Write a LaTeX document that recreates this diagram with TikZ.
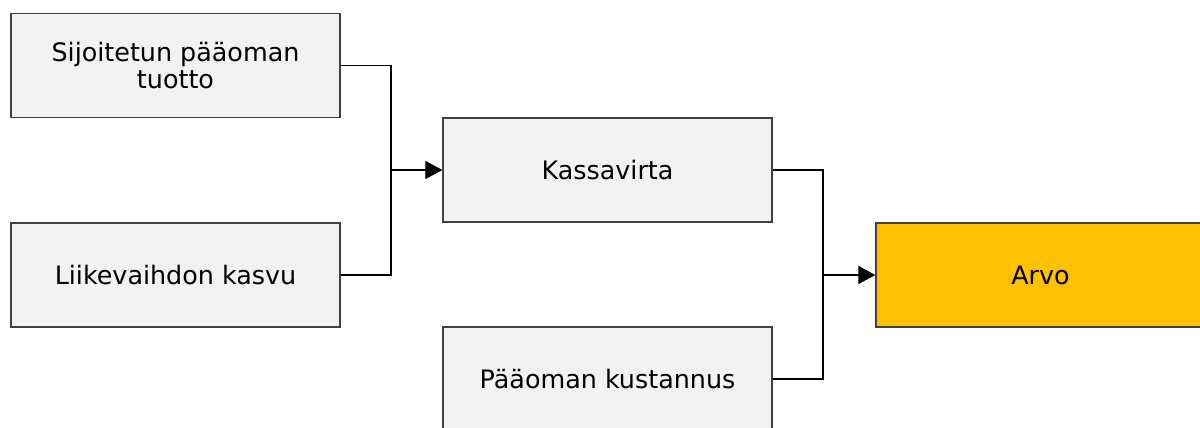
\documentclass[tikz,border=0pt]{standalone}
\usepackage{fontspec}
\setmainfont{DejaVu Sans}
\usetikzlibrary{arrows.meta}
\definecolor{boxgray}{HTML}{F2F2F2}
\definecolor{boxline}{HTML}{404040}
\definecolor{arvo}{HTML}{FFC000}
\begin{document}
\begin{tikzpicture}[x=0.5pt,y=-0.5pt,
  box/.style={draw=boxline,line width=0.6pt,fill=boxgray,minimum width=164.5pt,minimum height=52pt,
    inner sep=0pt,align=center,font=\fontsize{12.7pt}{13.8pt}\selectfont,text=black},
  conn/.style={draw=black,line width=0.55pt},
  arr/.style={conn,-{Triangle[length=8.5pt,width=9pt]}}]
\useasboundingbox (0,0) rectangle (1200,428);
\node[box] (b1) at (175.5,65.5) {Sijoitetun pääoman\\tuotto};
\node[box] (b2) at (175.5,275) {Liikevaihdon kasvu};
\node[box] (b3) at (607.5,170) {Kassavirta};
\node[box,fill=arvo] (b4) at (1040.5,275) {Arvo};
\node[box] (b5) at (607.5,379) {Pääoman kustannus};
\coordinate (j1) at (391,170);
\coordinate (j2) at (823,275);
\draw[conn] (b1.east) -| (j1);
\draw[conn] (b2.east) -| (j1);
\draw[arr] (j1) -- (b3.west);
\draw[conn] (b3.east) -| (j2);
\draw[conn] (b5.east) -| (j2);
\draw[arr] (j2) -- (b4.west);
\end{tikzpicture}
\end{document}
